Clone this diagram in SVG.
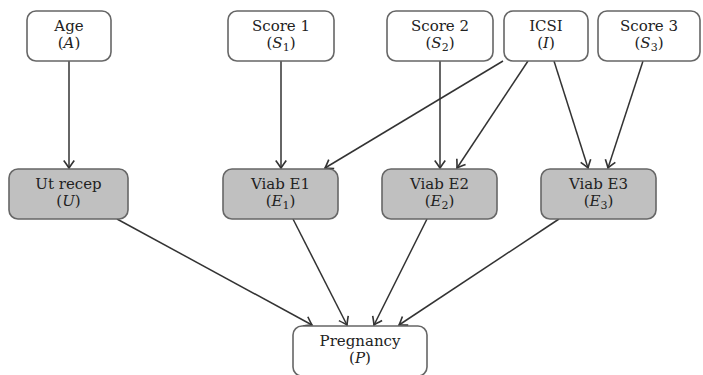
<svg xmlns="http://www.w3.org/2000/svg" width="703" height="375" viewBox="0 0 703 375">
<style>
.box{fill:#fff;stroke:#666;stroke-width:1.6}
.obs{fill:#c0c0c0;stroke:#666;stroke-width:1.6}
text{font-family:"DejaVu Serif","Liberation Serif",serif;font-size:15px;fill:#222;text-anchor:middle}
.m{font-style:italic}
.sub{font-size:11px}
.edge{stroke:#333;stroke-width:1.5;fill:none;marker-end:url(#arr)}
</style>
<defs>
<marker id="arr" markerUnits="userSpaceOnUse" markerWidth="14" markerHeight="14" viewBox="-8 -6 10 12" refX="0" refY="0" orient="auto">
<path d="M-6.5,-4.5 Q-2,-1.2 0,0 Q-2,1.2 -6.5,4.5" fill="none" stroke="#333" stroke-width="1.4"/>
</marker>
</defs>
<g id="connectors">
<line class="edge" x1="69" y1="61" x2="69" y2="168"/>
<line class="edge" x1="281" y1="61" x2="281" y2="168"/>
<line class="edge" x1="440" y1="61" x2="440" y2="168"/>
<line class="edge" x1="503" y1="61" x2="325" y2="168"/>
<line class="edge" x1="528" y1="61" x2="457" y2="168"/>
<line class="edge" x1="554" y1="61" x2="588" y2="168"/>
<line class="edge" x1="643" y1="61" x2="608" y2="168"/>
<line class="edge" x1="117" y1="219" x2="312" y2="325"/>
<line class="edge" x1="293" y1="219" x2="347" y2="325"/>
<line class="edge" x1="427" y1="219" x2="374" y2="325"/>
<line class="edge" x1="559" y1="219" x2="399" y2="325"/>
</g>
<g id="age">
<rect class="box" x="27" y="11" width="84" height="50" rx="9"/>
<text x="69" y="31">Age</text>
<text x="69" y="48">(<tspan class="m">A</tspan>)</text>
</g>
<g id="score1">
<rect class="box" x="228" y="11" width="106" height="50" rx="9"/>
<text x="281" y="31">Score 1</text>
<text x="281" y="48">(<tspan class="m">S</tspan><tspan class="sub" dy="3">1</tspan><tspan dy="-3">)</tspan></text>
</g>
<g id="score2">
<rect class="box" x="387" y="11" width="106" height="50" rx="9"/>
<text x="440" y="31">Score 2</text>
<text x="440" y="48">(<tspan class="m">S</tspan><tspan class="sub" dy="3">2</tspan><tspan dy="-3">)</tspan></text>
</g>
<g id="icsi">
<rect class="box" x="504" y="11" width="84" height="50" rx="9"/>
<text x="546" y="31">ICSI</text>
<text x="546" y="48">(<tspan class="m">I</tspan>)</text>
</g>
<g id="score3">
<rect class="box" x="598" y="11" width="102" height="50" rx="9"/>
<text x="649" y="31">Score 3</text>
<text x="649" y="48">(<tspan class="m">S</tspan><tspan class="sub" dy="3">3</tspan><tspan dy="-3">)</tspan></text>
</g>
<g id="utrecep">
<rect class="obs" x="9" y="169" width="119" height="50" rx="9"/>
<text x="68.5" y="189">Ut recep</text>
<text x="68.5" y="206">(<tspan class="m">U</tspan>)</text>
</g>
<g id="viabe1">
<rect class="obs" x="223" y="169" width="115" height="50" rx="9"/>
<text x="280.5" y="189">Viab E1</text>
<text x="280.5" y="206">(<tspan class="m">E</tspan><tspan class="sub" dy="3">1</tspan><tspan dy="-3">)</tspan></text>
</g>
<g id="viabe2">
<rect class="obs" x="382" y="169" width="115" height="50" rx="9"/>
<text x="439.5" y="189">Viab E2</text>
<text x="439.5" y="206">(<tspan class="m">E</tspan><tspan class="sub" dy="3">2</tspan><tspan dy="-3">)</tspan></text>
</g>
<g id="viabe3">
<rect class="obs" x="541" y="169" width="115" height="50" rx="9"/>
<text x="598.5" y="189">Viab E3</text>
<text x="598.5" y="206">(<tspan class="m">E</tspan><tspan class="sub" dy="3">3</tspan><tspan dy="-3">)</tspan></text>
</g>
<g id="pregnancy">
<rect class="box" x="293" y="326" width="134" height="50" rx="9"/>
<text x="360" y="346">Pregnancy</text>
<text x="360" y="363">(<tspan class="m">P</tspan>)</text>
</g>
</svg>
